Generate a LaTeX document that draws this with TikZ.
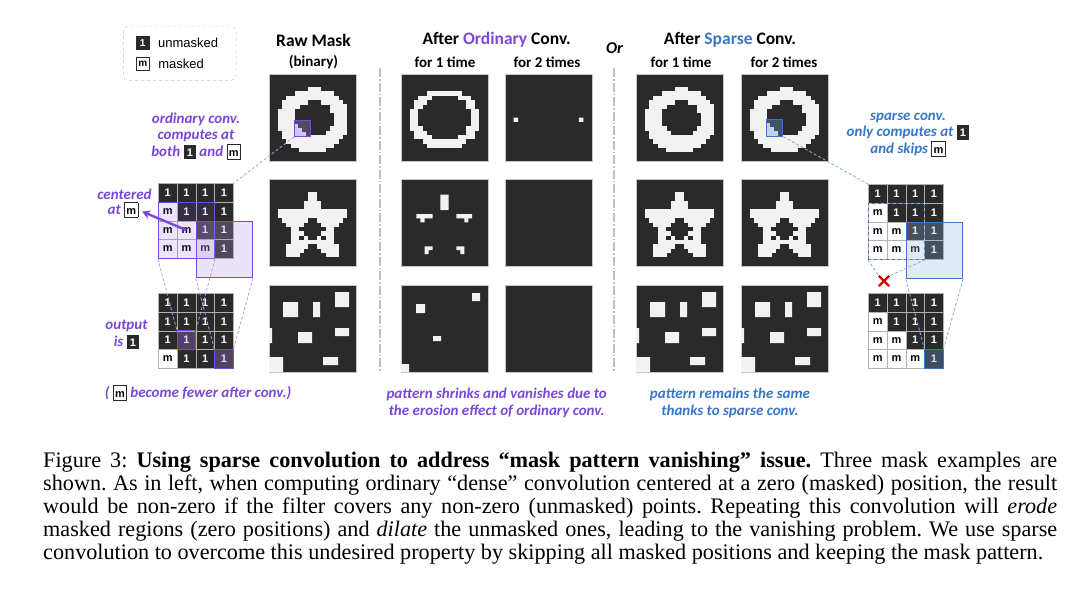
\documentclass[tikz,border=0pt]{standalone}
\usepackage{fontspec}
\setmainfont{Liberation Serif}
\newfontfamily\cali{Carlito}
\newfontfamily\arialf{Liberation Sans}
\usetikzlibrary{positioning,fit,arrows.meta,shapes.misc}

\definecolor{maskdark}{HTML}{2A2A2A}
\definecolor{masklite}{HTML}{F2F2F2}
\definecolor{ordpurple}{RGB}{122,72,214}
\definecolor{spblue}{RGB}{58,118,200}
\definecolor{sepgray}{RGB}{192,192,192}

% small 1 / m chips used inside the labels
\newcommand{\onechip}{{\setlength{\fboxsep}{1.5pt}\colorbox{maskdark}{\makebox[9.5pt]{\rule[-1.5pt]{0pt}{11.5pt}\textcolor{white}{\arialf\bfseries\upshape\fontsize{11}{11}\selectfont 1}}}}}
\newcommand{\mchip}{{\setlength{\fboxsep}{1pt}\setlength{\fboxrule}{0.8pt}\fcolorbox{maskdark}{white}{\makebox[10.5pt]{\rule[-1.5pt]{0pt}{11.5pt}\textcolor{black}{\arialf\bfseries\upshape\fontsize{11}{11}\selectfont m}}}}}

% pixel ring: outer ellipse (cx,cy,ax,ay) minus inner ellipse (cx,cy,ax,ay), 20x20 cells
\newcommand{\ringcells}[8]{%
  \foreach \i in {0,...,19}{\foreach \j in {0,...,19}{%
    \pgfmathsetmacro\ro{((\i+0.5-#1)/#3)*((\i+0.5-#1)/#3)+((\j+0.5-#2)/#4)*((\j+0.5-#2)/#4)}%
    \pgfmathsetmacro\ri{((\i+0.5-#5)/#7)*((\i+0.5-#5)/#7)+((\j+0.5-#6)/#8)*((\j+0.5-#6)/#8)}%
    \pgfmathtruncatemacro\on{and(\ro<1,\ri>1)}%
    \ifnum\on=1 \fill[masklite] (\i*4.35,\j*4.35) rectangle ++(4.42,4.42);\fi
  }}}

% pixel star
\newcommand{\starcells}{%
  \foreach \r/\a/\b in {3/9/10,4/9/10,5/8/11,6/8/11,7/2/17,8/2/17,9/3/16,10/4/15,11/5/14,12/5/14,13/5/14,14/5/14,15/4/8,15/11/15,16/4/7,16/12/15,17/4/6,17/13/15}
    \fill[masklite] (\a*4.35,\r*4.35) rectangle (\b*4.35+4.42,\r*4.35+4.42);
  \foreach \r/\a/\b in {9/9/10,10/8/11,11/7/12,12/8/11,13/9/10,13/7/7,13/12/12}
    \fill[maskdark] (\a*4.35,\r*4.35) rectangle (\b*4.35+4.35,\r*4.35+4.35);}

% random squares
\newcommand{\squarecells}{%
  \fill[masklite] (14,17) rectangle (29,32) (44,17) rectangle (51,32) (66,7) rectangle (80,22)
    (0,43) rectangle (3,58) (29,47) rectangle (43,58) (66,43) rectangle (80,51)
    (54,72) rectangle (69,80) (0,72) rectangle (14,87);}

% 4x4 grid of 1 / m cells, named <name>-<row>-<col>
\newcommand{\maskgrid}[3]{%
  \begin{scope}[shift={(#2)}]
  \foreach \row [count=\r from 0] in {#3}{
    \foreach \v [count=\c from 0] in \row {
      \node[cell=\v] (#1-\r-\c) at (\c*18.75,\r*18.75) {\v};
    }}
  \end{scope}}

\begin{document}
\begin{tikzpicture}[x=1pt, y=-1pt, >={Stealth[length=8pt,width=9pt]},
  panel/.style={draw=gray!45, line width=0.5pt, fill=maskdark, minimum size=87pt, inner sep=0pt, outer sep=0pt, anchor=north west},
  cellbase/.style={draw=gray!60, line width=0.6pt, minimum size=18.75pt, inner sep=0pt, outer sep=0pt, anchor=north west, font=\arialf\bfseries\fontsize{11}{11}\selectfont},
  cell/.code={\if#1m\pgfkeysalso{cellbase, fill=white, text=black}\else\pgfkeysalso{cellbase, fill=maskdark, text=white}\fi},
  ttl/.style={font=\cali\bfseries\fontsize{17.5}{19}\selectfont, inner sep=0pt},
  sub/.style={font=\cali\bfseries\fontsize{15}{16}\selectfont, inner sep=0pt},
  lbl/.style={font=\cali\bfseries\itshape\fontsize{15}{16.5}\selectfont, align=center, inner sep=0pt},
  ordlbl/.style={lbl, text=ordpurple},
  splbl/.style={lbl, text=spblue},
  legtext/.style={font=\arialf\fontsize{13}{13}\selectfont, inner sep=0pt, anchor=west},
  chipone/.style={fill=maskdark, text=white, minimum size=14pt, inner sep=0pt, font=\arialf\bfseries\fontsize{10}{10}\selectfont},
  chipm/.style={fill=white, draw=maskdark, line width=0.8pt, minimum size=13pt, inner sep=0pt, font=\arialf\bfseries\fontsize{10}{10}\selectfont},
  ordwin/.style={draw=ordpurple, line width=1pt, fill=ordpurple, fill opacity=0.14, inner sep=0pt},
  ordbig/.style={draw=ordpurple, line width=1pt, fill=ordpurple!55, fill opacity=0.28, inner sep=0pt, minimum size=56.25pt, anchor=north west},
  ordhit/.style={draw=ordpurple, line width=1pt, fill=ordpurple!70, fill opacity=0.3, inner sep=0pt},
  spwin/.style={draw=spblue, line width=1pt, dashed, inner sep=0pt},
  spbig/.style={draw=spblue, line width=1pt, fill=spblue!55, fill opacity=0.28, inner sep=0pt, minimum size=56.25pt, anchor=north west},
  sphit/.style={draw=spblue, line width=1pt, fill=spblue!70, fill opacity=0.3, inner sep=0pt},
  ordlink/.style={ordpurple!55, line width=0.8pt, dash pattern=on 3pt off 2pt},
  splink/.style={spblue!60, line width=0.8pt, dash pattern=on 3pt off 2pt},
  sepline/.style={sepgray, line width=1.3pt, dash pattern=on 9pt off 2pt on 1.5pt off 2pt}]
\useasboundingbox (0,0) rectangle (1080,597);

% legend
\node[draw=gray!50, dashed, rounded corners=6pt, minimum width=112.7pt, minimum height=54.7pt] (legend) at (179.7,53.3) {};
\node[chipone] (leg1) at (142.7,42.7) {1};
\node[legtext, right=8pt of leg1] (legun) {unmasked};
\node[chipm] (legm) at (142.7,64) {m};
\node[legtext, right=8.5pt of legm] (legma) {masked};

% headings
\node[ttl] (rawttl) at (313.5,40) {Raw Mask};
\node[sub] (rawsub) at (313.5,62) {(binary)};
\node[ttl] (ordttl) at (496.7,40) {After \textcolor{ordpurple}{Ordinary} Conv.};
\node[sub] (ord1sub) at (445,62) {for 1 time};
\node[sub] (ord2sub) at (547,62) {for 2 times};
\node[font=\cali\bfseries\itshape\fontsize{16.5}{16.5}\selectfont, inner sep=0pt] (orttl) at (614.5,48) {Or};
\node[ttl] (spttl) at (730,40) {After \textcolor{spblue}{Sparse} Conv.};
\node[sub] (sp1sub) at (681,62) {for 1 time};
\node[sub] (sp2sub) at (784,62) {for 2 times};

% separators
\draw[sepline] (380,68) -- (380,372);
\draw[sepline] (614,68) -- (614,372);

% mask panels
\foreach \col/\x in {raw/269, ordA/401, ordB/505, spA/636, spB/741}
  \foreach \kind/\y in {ring/74, star/179, sq/285}
    \node[panel] (\col\kind) at (\x,\y) {};

\begin{scope}[shift={(rawring.north west)}]
  \ringcells{10.2}{10.7}{8.2}{7.3}{10.3}{10.3}{4.5}{4.0}
  \fill[maskdark] (25,46) rectangle (41,62);
  \foreach \r/\c in {1/0,2/0,2/1,3/0,3/1,3/2} \fill[ordpurple!12!white] (25+\c*4,46+\r*4) rectangle ++(4,4);
  \node[ordhit, minimum size=16pt, anchor=north west, fill opacity=0.35] (rawwin) at (25,46) {};
\end{scope}
\begin{scope}[shift={(spAring.north west)}]
  \ringcells{10.2}{10.7}{8.2}{7.3}{10.3}{10.3}{4.5}{4.0}
\end{scope}
\begin{scope}[shift={(spBring.north west)}]
  \ringcells{10.2}{10.7}{8.2}{7.3}{10.3}{10.3}{4.5}{4.0}
  \fill[maskdark] (24.7,45) rectangle (41.3,61.7);
  \foreach \r/\c in {1/0,2/0,2/1,3/0,3/1,3/2} \fill[spblue!12!white] (24.7+\c*4.15,45+\r*4.15) rectangle ++(4.15,4.15);
  \node[sphit, minimum size=16.6pt, anchor=north west, fill opacity=0.35] (spwin) at (24.7,45) {};
\end{scope}
\begin{scope}[shift={(ordAring.north west)}]
  \ringcells{10}{10.4}{8.2}{6.8}{10.1}{10}{5.9}{5.3}
\end{scope}
\begin{scope}[shift={(ordBring.north west)}]
  \fill[masklite] (2*4.35,10*4.35) rectangle ++(4.35,4.35) (17*4.35,10*4.35) rectangle ++(4.35,4.35);
\end{scope}

\foreach \p in {rawstar, spAstar, spBstar}
  \begin{scope}[shift={(\p.north west)}] \starcells \end{scope};
\begin{scope}[shift={(ordAstar.north west)}]
  \fill[masklite] (39.3,15.7) rectangle (47.7,31)
    (15.3,35) rectangle (31.7,39.3) (19.3,39.3) rectangle (23.5,43.3)
    (55.3,35) rectangle (71,39.3) (63.3,39.3) rectangle (67.3,43.3)
    (23.7,67.3) rectangle (31.7,71) (23.7,71) rectangle (27.7,75)
    (55.3,67.3) rectangle (63.3,71) (59.3,71) rectangle (63.3,75);
\end{scope}

\foreach \p in {rawsq, spAsq, spBsq}
  \begin{scope}[shift={(\p.north west)}] \squarecells \end{scope};
\begin{scope}[shift={(ordAsq.north west)}]
  \fill[masklite] (15,19) rectangle (24,28) (71,8) rectangle (79,16) (32,51) rectangle (40,56) (0,79) rectangle (8,87);
\end{scope}

% left: ordinary conv. grids
\maskgrid{lu}{158.3,183.3}{{1,1,1,1},{m,1,1,1},{m,m,1,1},{m,m,m,1}}
\maskgrid{ll}{158.3,293.3}{{1,1,1,1},{1,1,1,1},{1,1,1,1},{m,1,1,1}}
\node[ordwin, fit=(lu-1-0)(lu-3-2)] (luwin) {};
\node[ordbig] (lubig) at (lu-2-2.north west) {};
\node[ordhit, fit=(ll-2-1)] (llhitA) {};
\node[ordhit, fit=(ll-3-3)] (llhitB) {};

% right: sparse conv. grids
\maskgrid{ru}{868.3,184.3}{{1,1,1,1},{m,1,1,1},{m,m,1,1},{m,m,m,1}}
\maskgrid{rl}{868.3,293.3}{{1,1,1,1},{m,1,1,1},{m,m,1,1},{m,m,m,1}}
\node[spwin, fit=(ru-1-0)(ru-3-2)] (ruwin) {};
\node[spbig] (rubig) at (ru-2-2.north west) {};
\node[sphit, fit=(rl-3-3)] (rlhit) {};
\node[cross out, draw=red!85!black, line width=2.3pt, minimum size=8pt, inner sep=0pt] (nox) at (884,281) {};

% labels
\node[ordlbl] (ordnote) at (196,136) {ordinary conv.\\computes at\\both \onechip{} and \mchip};
\node[ordlbl] (centA) at (124.5,194) {centered};
\node[ordlbl] (centB) at (123,210) {at \mchip};
\node[ordlbl] (outnote) at (126.5,335) {output\\is \onechip};
\node[ordlbl] (fewer) at (198,393) {( \mchip{} become fewer after conv.)};
\node[ordlbl] (ordfoot) at (496.7,403) {pattern shrinks and vanishes due to\\the erosion effect of ordinary conv.};
\node[splbl] (spnote) at (908,134.5) {sparse conv.\\only computes at \onechip\\and skips \mchip};
\node[splbl] (spfoot) at (730,403) {pattern remains the same\\thanks to sparse conv.};

% connectors
\draw[ordlink] (rawwin.south west) -- (lu-0-3.north east);
\draw[ordlink] (luwin.south west) -- (ll-2-1.north west);
\draw[ordlink] (luwin.south east) -- (ll-2-1.north east);
\draw[ordlink] (lubig.south west) -- (ll-3-3.north west);
\draw[ordlink] (lubig.south east) -- (ll-3-3.north east);
\draw[->, ordpurple, line width=2.4pt, shorten >=4pt] (lu-2-1.center) -- (centB.east);
\draw[splink] (spwin.south east) -- (ru-0-0.north west);
\draw[splink] (ruwin.south west) -- (nox.north west);
\draw[splink] (ruwin.south east) -- (nox.north east);
\draw[splink] (rubig.south west) -- (rl-3-3.north west);
\draw[splink] (rubig.south east) -- (rl-3-3.north east);

% caption
\node[anchor=north west, text width=1014pt, align=justify, inner sep=0pt, font=\fontsize{22.2}{23}\selectfont\frenchspacing] (caption) at (43,452) {Figure 3: \textbf{Using sparse convolution to address “mask pattern vanishing” issue.} Three mask examples are\linebreak shown. As in left, when computing ordinary “dense” convolution centered at a zero (masked) position, the result\linebreak would be non-zero if the filter covers any non-zero (unmasked) points. Repeating this convolution will \textit{erode}\linebreak masked regions (zero positions) and \textit{dilate} the unmasked ones, leading to the vanishing problem. We use sparse\linebreak convolution to overcome this undesired property by skipping all masked positions and keeping the mask pattern.};
\end{tikzpicture}
\end{document}
